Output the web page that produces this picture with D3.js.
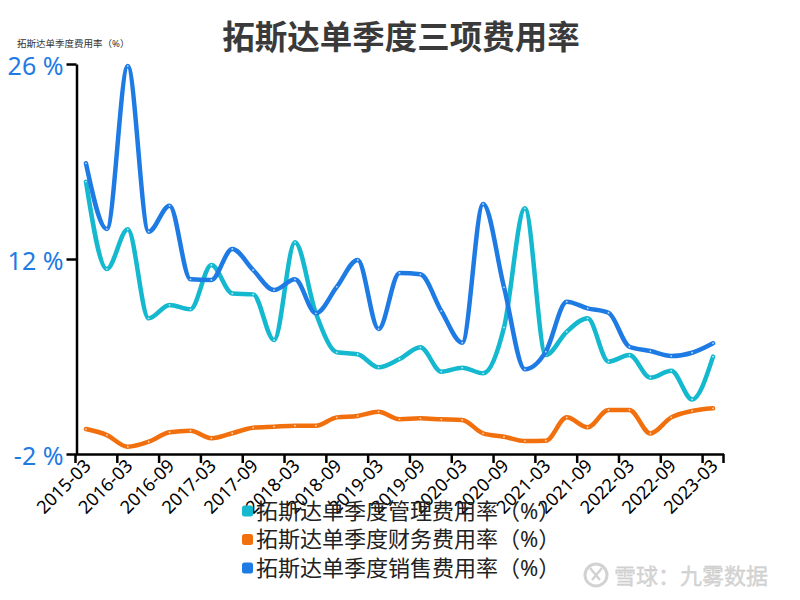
<!DOCTYPE html>
<html><head><meta charset="utf-8">
<script src="https://cdn.jsdelivr.net/npm/d3@7"></script>
<style>body{margin:0;background:#fff}svg{display:block}</style>
</head><body>
<svg id="c" width="800" height="600"></svg>
<script>
const quarters = ["2015-03","2015-12","2016-03","2016-06","2016-09","2016-12","2017-03","2017-06","2017-09","2017-12","2018-03","2018-06","2018-09","2018-12","2019-03","2019-06","2019-09","2019-12","2020-03","2020-06","2020-09","2020-12","2021-03","2021-06","2021-09","2021-12","2022-03","2022-06","2022-09","2022-12","2023-03"];
const labelQuarters = ["2015-03","2016-03","2016-09","2017-03","2017-09","2018-03","2018-09","2019-03","2019-09","2020-03","2020-09","2021-03","2021-09","2022-03","2022-09","2023-03"];
const mgmtRate = [17.55,11.28,14.13,7.74,8.7,8.39,11.57,9.53,9.46,6.18,13.2,8.1,5.3,5.16,4.22,4.82,5.66,3.91,4.2,3.79,7.09,15.64,5.1,6.78,7.74,4.63,5.1,3.48,3.98,1.92,4.99];
const finRate = [-0.21,-0.64,-1.48,-1.12,-0.44,-0.33,-0.87,-0.51,-0.11,-0.04,0.03,0.03,0.63,0.73,1.04,0.49,0.56,0.49,0.44,-0.52,-0.76,-1.07,-1.05,0.63,-0.08,1.16,1.16,-0.52,0.63,1.09,1.28];
const salesRate = [18.87,14.15,25.85,13.96,15.83,10.54,10.5,12.72,11.21,9.77,10.54,8.1,10.0,11.93,6.97,11.0,10.9,8.27,5.99,15.95,9.97,4.08,5.35,8.93,8.46,8.14,5.7,5.39,5.03,5.27,5.95];
const yTicks = [-2,12,26];
const seriesNames = ["拓斯达单季度管理费用率（%）","拓斯达单季度财务费用率（%）","拓斯达单季度销售费用率（%）"];
const seriesColors = ["#14b8cf","#f26f0d","#1e7be4"];
const seriesData = [mgmtRate, finRate, salesRate];

const svg = d3.select("#c");
const FONT = "'Noto Sans','Noto Sans CJK SC',sans-serif";

const x = d3.scaleBand().domain(quarters).range([75.5, 723.5]);
const y = d3.scaleLinear().domain([-2, 26]).range([454, 64]);
const cx = q => x(q) + x.bandwidth()/2;

// title
svg.append("text").attr("x", 401).attr("y", 49).attr("text-anchor","middle")
  .attr("font-family", FONT).attr("font-weight","bold").attr("font-size", 32.5)
  .attr("fill","#3a3a3a").text("拓斯达单季度三项费用率");
// y axis name
svg.append("text").attr("x", 17).attr("y", 47).attr("font-family", FONT)
  .attr("font-size", 9.5).attr("fill","#333").text("拓斯达单季度费用率（%）");

// y axis
const yAxis = d3.axisLeft(y).tickValues(yTicks).tickSize(10).tickSizeOuter(0).tickFormat(d => d + " %");
const gy = svg.append("g").attr("transform","translate(76.5,0)").call(yAxis);
gy.select(".domain").attr("stroke","#000").attr("stroke-width",2.5);
gy.selectAll(".tick line").attr("stroke","#000").attr("stroke-width",2.5);
gy.selectAll(".tick text").attr("font-family", FONT).attr("font-size", 25).attr("fill","#1e7be4").attr("x",-13).attr("dy","0.4em");

// x axis
const xAxis = d3.axisBottom(x).tickValues(labelQuarters).tickSize(0).tickSizeOuter(0);
const gx = svg.append("g").attr("transform","translate(0,454)").call(xAxis);
gx.select(".domain").attr("stroke","#000").attr("stroke-width",2.5);
gx.selectAll(".tick text").attr("font-family", FONT).attr("font-size", 18).attr("fill","#000")
  .attr("text-anchor","end").attr("dy",0).attr("y",0)
  .attr("transform","translate(6,13) rotate(-45)");
// boundary ticks every 2 categories + end
const bTicks = labelQuarters.map(q => x(q)).concat([x.range()[1]]);
svg.append("g").selectAll("line").data(bTicks).join("line")
  .attr("x1", d => d).attr("x2", d => d).attr("y1", 454).attr("y2", 463)
  .attr("stroke","#000").attr("stroke-width",2.5);

// lines
const line = d3.line().x((d,i) => cx(quarters[i])).y(d => y(d)).curve(d3.curveMonotoneX);
seriesData.forEach((arr, k) => {
  svg.append("path").datum(arr).attr("d", line).attr("fill","none")
    .attr("stroke", seriesColors[k]).attr("stroke-width", 4.5)
    .attr("stroke-linejoin","round").attr("stroke-linecap","round");
  svg.append("g").selectAll("circle").data(arr).join("circle")
    .attr("cx", (d,i) => cx(quarters[i])).attr("cy", d => y(d)).attr("r", 0.9)
    .attr("fill","#fff").attr("opacity",0.7);
});

// legend
const lg = svg.append("g");
seriesNames.forEach((n, k) => {
  const yy = 511 + k*28.5;
  lg.append("rect").attr("x", 242).attr("y", yy-5.5).attr("width", 11).attr("height", 11)
    .attr("rx", 2.5).attr("fill", seriesColors[k]);
  lg.append("text").attr("x", 256).attr("y", yy).attr("dy","0.36em")
    .attr("font-family", FONT).attr("font-size", 22).attr("fill","#222").text(n);
});

// watermark
const wm = svg.append("g");
wm.append("circle").attr("cx",596).attr("cy",575).attr("r",11).attr("fill","none")
  .attr("stroke","#d2d2d2").attr("stroke-width",3);
wm.append("path").attr("d","M590,568 L600,580 M602,568 L592,580").attr("stroke","#d2d2d2").attr("stroke-width",2.5).attr("fill","none");
wm.append("text").attr("x", 614).attr("y", 576).attr("dy","0.35em")
  .attr("font-family", FONT).attr("font-size", 22).attr("fill","#d6d6d6")
  .attr("stroke","#c4c4c4").attr("stroke-width",0.3).text("雪球：九雾数据");
</script>
</body></html>
